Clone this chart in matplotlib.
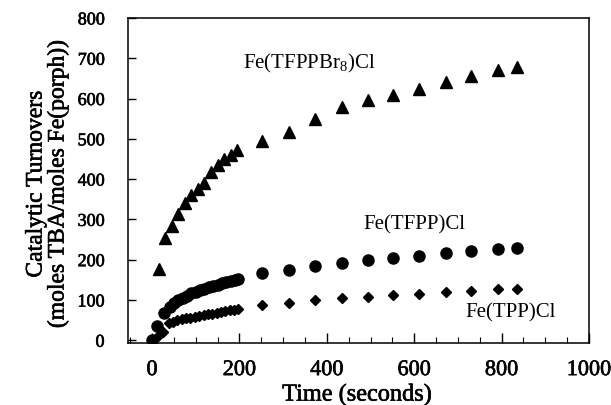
import matplotlib
matplotlib.use("Agg")
import matplotlib.pyplot as plt
import matplotlib.patheffects as pe
from matplotlib.ticker import MultipleLocator

# Fe(TFPPBr8)Cl  (triangles)
t_br8 = [15, 30, 45, 60, 75, 90, 105, 120, 135, 150, 165, 180, 195,
         252, 313, 373, 434, 494, 552, 612, 672, 731, 791, 836]
v_br8 = [178, 255, 283, 313, 340, 360, 375, 390, 418, 435, 450, 460, 472,
         495, 518, 550, 580, 596, 610, 623, 640, 655, 672, 678]

# Fe(TFPP)Cl (circles)
t_tfpp = [0, 11, 28, 40, 50, 60, 70, 80, 90, 100, 110, 120, 130, 140, 150,
          160, 170, 180, 190, 197,
          252, 313, 373, 434, 494, 552, 612, 672, 731, 791, 836]
v_tfpp = [0, 36, 68, 82, 92, 100, 106, 111, 116, 120, 124, 128, 131, 135, 138,
          141, 144, 147, 150, 153,
          168, 175, 184, 191, 200, 205, 210, 216, 221, 226, 228]

# Fe(TPP)Cl (diamonds)
t_tpp = [0, 12, 26, 38, 48, 58, 68, 78, 88, 98, 108, 118, 128, 138, 148,
         158, 168, 178, 188, 197,
         252, 313, 373, 434, 494, 552, 612, 672, 731, 791, 836]
v_tpp = [0, 8, 20, 42, 46, 49, 52, 54, 56, 58, 60, 62, 64, 66, 68,
         70, 72, 74, 76, 78,
         88, 93, 99, 104, 108, 112, 115, 119, 123, 126, 128]

x_ticks = [0, 200, 400, 600, 800, 1000]
y_ticks = [0, 100, 200, 300, 400, 500, 600, 700, 800]

serif = ["Liberation Serif", "DejaVu Serif"]
plt.rcParams["font.family"] = serif
plt.rcParams["mathtext.fontset"] = "custom"
plt.rcParams["mathtext.rm"] = "Liberation Serif"
plt.rcParams["mathtext.it"] = "Liberation Serif:italic"
plt.rcParams["mathtext.bf"] = "Liberation Serif:bold"

thick = [pe.withStroke(linewidth=0.45, foreground="black")]

fig = plt.figure(figsize=(6.11, 4.05), dpi=100)
ax = fig.add_axes([0.2095, 0.153, 0.7545, 0.8026])

ax.plot(t_br8, v_br8, linestyle="none", marker="^", color="black", markersize=8)
ax.plot(t_tfpp, v_tfpp, linestyle="none", marker="o", color="black", markersize=8)
ax.plot(t_tpp, v_tpp, linestyle="none", marker="D", color="black", markersize=5.5)

ax.set_xlim(-55, 1000)
ax.set_ylim(-7, 800)
ax.set_xticks(x_ticks)
ax.set_yticks(y_ticks)
ax.xaxis.set_minor_locator(MultipleLocator(50))
ax.tick_params(axis="x", which="major", direction="in", length=7, width=1,
               labelsize=16, pad=13)
ax.tick_params(axis="x", which="minor", direction="in", length=4, width=0.8)
ax.tick_params(axis="y", which="major", direction="in", length=6, width=1,
               labelsize=13, pad=17)
for lab in ax.get_xticklabels() + ax.get_yticklabels():
    lab.set_path_effects(thick)
for s in ax.spines.values():
    s.set_linewidth(1.1)

fig.text(357 / 611, 1 - 395 / 405, "Time (seconds)", fontsize=17.5,
         ha="center", va="center", path_effects=thick)
fig.text(47 / 611, 1 - 184 / 405,
         "Catalytic Turnovers\n(moles TBA/moles Fe(porph))", fontsize=17,
         rotation=90, ha="center", va="center", multialignment="center",
         linespacing=1.05, path_effects=thick)

ax.text(208, 688, r"Fe(TFPPBr$_8$)Cl", fontsize=15, va="center", ha="left")
ax.text(483, 287, "Fe(TFPP)Cl", fontsize=15, va="center", ha="left")
ax.text(716, 67, "Fe(TPP)Cl", fontsize=15, va="center", ha="left")

fig.savefig("out.png", dpi=100)
